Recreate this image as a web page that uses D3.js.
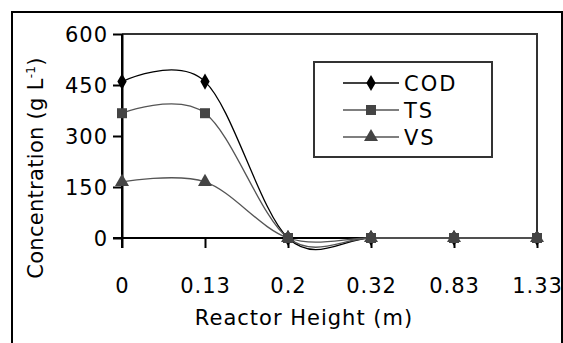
<!DOCTYPE html>
<html>
<head>
<meta charset="utf-8">
<script src="https://cdn.jsdelivr.net/npm/d3@7"></script>
<style>
  body { margin: 0; background: #fff; }
  text { font-family: "DejaVu Sans", sans-serif; font-size: 21px; fill: #000; letter-spacing: 1px; }
</style>
</head>
<body>
<div id="chart"></div>
<script>
var heights = ["0", "0.13", "0.2", "0.32", "0.83", "1.33"];
var cod = [460, 460, 0, 0, 0, 0];
var ts = [367, 367, 0, 0, 0, 0];
var vs = [165, 165, 0, 0, 0, 0];
var yTicks = [0, 150, 300, 450, 600];

var width = 563, height = 343;
var plot = { left: 122, right: 537, top: 34, bottom: 238 };

var svg = d3.select("#chart").append("svg")
    .attr("width", width)
    .attr("height", height);

var x = d3.scalePoint()
    .domain(heights)
    .range([plot.left, plot.right]);

var y = d3.scaleLinear()
    .domain([0, 600])
    .range([plot.bottom, plot.top]);

// plot area border (top + right)
svg.append("path")
    .attr("d", "M" + plot.left + "," + plot.top + "H" + plot.right + "V" + plot.bottom)
    .attr("fill", "none")
    .attr("stroke", "#333")
    .attr("stroke-width", 2);

// y axis
var yAxis = svg.append("g")
    .attr("transform", "translate(" + plot.left + ",0)")
    .call(d3.axisLeft(y).tickValues(yTicks).tickSize(9).tickPadding(5).tickSizeOuter(0));
yAxis.select(".domain").attr("stroke-width", 2);
yAxis.selectAll(".tick line").attr("stroke-width", 2);
yAxis.selectAll(".tick text").attr("font-size", null).attr("font-family", null).attr("dy", "0.36em");

// x axis
var xAxis = svg.append("g")
    .attr("transform", "translate(0," + plot.bottom + ")")
    .call(d3.axisBottom(x).tickSize(10).tickPadding(30).tickSizeOuter(0));
xAxis.select(".domain").attr("stroke-width", 2)
    .attr("d", "M" + (plot.left - 9) + ",0H" + plot.right);
xAxis.selectAll(".tick line").attr("stroke-width", 2);
xAxis.selectAll(".tick text").attr("font-size", null).attr("font-family", null);
svg.append("line")
    .attr("x1", plot.left).attr("x2", plot.left)
    .attr("y1", plot.top).attr("y2", plot.bottom + 10)
    .attr("stroke", "#000").attr("stroke-width", 2);

// axis titles
svg.append("text")
    .attr("x", 304)
    .attr("y", 325)
    .attr("text-anchor", "middle")
    .text("Reactor Height (m)");

var yt = svg.append("text")
    .attr("transform", "translate(43,168) rotate(-90)")
    .attr("text-anchor", "middle")
    .style("letter-spacing", "0.3px");
yt.append("tspan").text("Concentration (g L");
yt.append("tspan").attr("font-size", "12px").attr("dy", "-8").text("-1");
yt.append("tspan").attr("dy", "8").text(")");

var series = [
    { name: "COD", values: cod, stroke: "#000", fill: "#000", symbol: d3.symbolDiamond, size: 75 },
    { name: "TS", values: ts, stroke: "#555", fill: "#444", symbol: d3.symbolSquare, size: 100 },
    { name: "VS", values: vs, stroke: "#555", fill: "#444", symbol: d3.symbolTriangle, size: 85 }
];

var line = d3.line()
    .x(function (d, i) { return x(heights[i]); })
    .y(function (d) { return y(d); })
    .curve(d3.curveCardinal.tension(0));

series.forEach(function (s) {
    svg.append("path")
        .attr("d", line(s.values))
        .attr("fill", "none")
        .attr("stroke", s.stroke)
        .attr("stroke-width", 1.3);
});

series.forEach(function (s) {
    svg.selectAll(null)
        .data(s.values)
        .enter().append("path")
        .attr("transform", function (d, i) { return "translate(" + x(heights[i]) + "," + y(d) + ")"; })
        .attr("d", d3.symbol().type(s.symbol).size(s.size))
        .attr("fill", s.fill);
});

// legend
var legend = svg.append("g");
legend.append("rect")
    .attr("x", 314).attr("y", 62)
    .attr("width", 178).attr("height", 95)
    .attr("fill", "#fff")
    .attr("stroke", "#333")
    .attr("stroke-width", 2);

series.forEach(function (s, i) {
    var cy = 83 + i * 27;
    legend.append("line")
        .attr("x1", 343).attr("x2", 399)
        .attr("y1", cy).attr("y2", cy)
        .attr("stroke", s.stroke).attr("stroke-width", 1.3);
    legend.append("path")
        .attr("transform", "translate(371," + cy + ")")
        .attr("d", d3.symbol().type(s.symbol).size(s.size))
        .attr("fill", s.fill);
    legend.append("text")
        .attr("x", 404)
        .attr("y", cy)
        .attr("dy", "0.36em")
        .style("letter-spacing", "2px")
        .text(s.name);
});

// outer frame
svg.append("rect")
    .attr("x", 12).attr("y", 12)
    .attr("width", 550).attr("height", 340)
    .attr("fill", "none")
    .attr("stroke", "#000")
    .attr("stroke-width", 2);
</script>
</body>
</html>
